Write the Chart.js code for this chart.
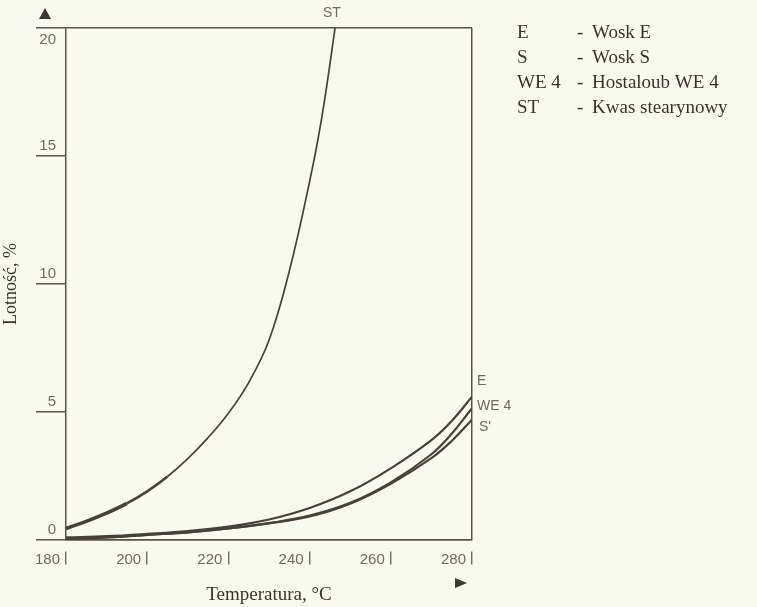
<!DOCTYPE html>
<html>
<head>
<meta charset="utf-8">
<script src="https://cdn.jsdelivr.net/npm/chart.js@4/dist/chart.umd.min.js"></script>
<style>
  html, body { margin: 0; padding: 0; background: #f9faee; }
  #wrap { width: 757px; height: 607px; }
</style>
</head>
<body>
<div id="wrap"><canvas id="volChart"></canvas></div>
<script>
// values
const stTemps = [180, 185, 190, 195, 200, 205, 210, 215, 220, 225, 230, 235, 240, 243, 246, 247];
const stValues = [0.45, 0.73, 1.05, 1.43, 1.9, 2.48, 3.18, 4.0, 4.95, 6.15, 7.8, 10.5, 14.0, 16.5, 19.7, 21];

const waxTemps = [180, 190, 200, 210, 220, 230, 240, 250, 260, 270, 275, 280];
const eValues = [0.1, 0.15, 0.24, 0.35, 0.52, 0.8, 1.25, 1.9, 2.8, 3.9, 4.65, 5.6];
const we4Values = [0.05, 0.1, 0.2, 0.3, 0.45, 0.66, 0.95, 1.45, 2.25, 3.35, 4.15, 5.15];
const sValues = [0.05, 0.1, 0.2, 0.3, 0.45, 0.65, 0.92, 1.42, 2.2, 3.2, 3.87, 4.7];

const xTickLabels = ['180', '200', '220', '240', '260', '280'];
const yTickLabels = ['0', '5', '10', '15', '20'];

const legendRows = [
    ['E', '-', 'Wosk E'],
    ['S', '-', 'Wosk S'],
    ['WE 4', '-', 'Hostaloub WE 4'],
    ['ST', '-', 'Kwas stearynowy']
];

const inkColor = '#48413b';
const axisColor = '#5a524c';
const tickTextColor = '#6e6862';
const serif = '"Liberation Serif", "DejaVu Serif", serif';
const sans = '"Liberation Sans", Arial, sans-serif';

function toPoints(xs, ys) {
    return xs.map((t, i) => ({ x: t, y: ys[i] }));
}

const paperBg = {
    id: 'paperBg',
    beforeDraw(chart) {
        const ctx = chart.ctx;
        ctx.save();
        ctx.fillStyle = '#f9faee';
        ctx.fillRect(0, 0, chart.width, chart.height);
        ctx.restore();
    }
};

const notes = {
    id: 'notes',
    afterDraw(chart) {
        const { ctx, scales: { x, y } } = chart;
        ctx.save();

        // top tick label sits below the frame line
        ctx.font = '15px ' + sans;
        ctx.fillStyle = tickTextColor;
        ctx.textAlign = 'right';
        ctx.textBaseline = 'middle';
        ctx.fillText(yTickLabels[4], 56, y.getPixelForValue(20) + 12);

        // axis arrows
        ctx.fillStyle = '#3d3732';
        ctx.beginPath();
        ctx.moveTo(39, 19); ctx.lineTo(45, 8); ctx.lineTo(51, 19);
        ctx.closePath(); ctx.fill();
        ctx.beginPath();
        ctx.moveTo(455, 578); ctx.lineTo(467, 583); ctx.lineTo(455, 588);
        ctx.closePath(); ctx.fill();

        // curve names
        ctx.font = '14px ' + sans;
        ctx.fillStyle = tickTextColor;
        ctx.textAlign = 'center';
        ctx.fillText('ST', x.getPixelForValue(246) - 2, 13);
        ctx.textAlign = 'left';
        const xr = x.getPixelForValue(280) + 5;
        ctx.fillText('E', xr, y.getPixelForValue(eValues[eValues.length - 1]) - 15);
        ctx.fillText('WE 4', xr, y.getPixelForValue(we4Values[we4Values.length - 1]) - 2);
        ctx.fillText("S'", xr + 2, y.getPixelForValue(sValues[sValues.length - 1]) + 7);

        // key on the right
        ctx.font = '19px ' + serif;
        ctx.fillStyle = '#38322d';
        legendRows.forEach((row, i) => {
            const ly = 33 + i * 25;
            ctx.textAlign = 'left';
            ctx.fillText(row[0], 517, ly);
            ctx.fillText(row[1], 577, ly);
            ctx.fillText(row[2], 592, ly);
        });

        ctx.restore();
    }
};

const frameColor = (v, ends) => ends.includes(v) ? axisColor : 'rgba(0,0,0,0)';

new Chart(document.getElementById('volChart'), {
    type: 'line',
    data: {
        datasets: [
            {
                label: 'ST',
                data: toPoints(stTemps, stValues),
                borderColor: inkColor,
                borderWidth: 1.7,
                segment: {
                    borderWidth: c => c.p0DataIndex < 3 ? 3.6 : (c.p0DataIndex < 5 ? 2.6 : 1.7)
                }
            },
            {
                label: 'E',
                data: toPoints(waxTemps, eValues),
                borderColor: inkColor,
                borderWidth: 2.2
            },
            {
                label: 'WE 4',
                data: toPoints(waxTemps, we4Values),
                borderColor: inkColor,
                borderWidth: 2.2
            },
            {
                label: 'S',
                data: toPoints(waxTemps, sValues),
                borderColor: inkColor,
                borderWidth: 2.2
            }
        ]
    },
    options: {
        responsive: true,
        maintainAspectRatio: false,
        animation: false,
        tension: 0.4,
        pointRadius: 0,
        layout: {
            padding: { left: 0, top: 28, right: 285, bottom: 0 }
        },
        plugins: {
            legend: { display: false },
            tooltip: { enabled: false }
        },
        scales: {
            x: {
                type: 'linear',
                min: 180,
                max: 280,
                afterFit: s => { s.height = 67; },
                border: { display: true, color: axisColor, width: 1.5 },
                grid: {
                    color: c => frameColor(c.tick && c.tick.value, [280]),
                    lineWidth: 1.5,
                    tickColor: axisColor,
                    tickLength: 25,
                    tickWidth: 1.2,
                    tickBorderDash: [0, 11, 13, 100]
                },
                ticks: {
                    stepSize: 20,
                    align: 'end',
                    labelOffset: -6,
                    padding: -14,
                    maxRotation: 0,
                    color: tickTextColor,
                    font: { family: sans, size: 15 },
                    callback: v => xTickLabels[(v - 180) / 20]
                },
                title: {
                    display: true,
                    text: 'Temperatura, °C',
                    color: '#38322d',
                    font: { family: serif, size: 19 },
                    padding: { top: 0, bottom: 1 }
                }
            },
            y: {
                min: 0,
                max: 20,
                afterFit: s => { s.width = 66; },
                border: { display: true, color: axisColor, width: 1.5 },
                grid: {
                    color: c => frameColor(c.tick && c.tick.value, [0, 20]),
                    lineWidth: 1.5,
                    tickColor: axisColor,
                    tickLength: 30,
                    tickWidth: 1.5
                },
                ticks: {
                    stepSize: 5,
                    crossAlign: 'near',
                    padding: -20,
                    labelOffset: -10,
                    color: tickTextColor,
                    font: { family: sans, size: 15 },
                    callback: v => v === 20 ? '' : yTickLabels[v / 5]
                },
                title: {
                    display: true,
                    text: 'Lotność, %',
                    color: '#38322d',
                    font: { family: serif, size: 18 },
                    padding: { top: 0, bottom: 0 }
                }
            }
        }
    },
    plugins: [paperBg, notes]
});
</script>
</body>
</html>
